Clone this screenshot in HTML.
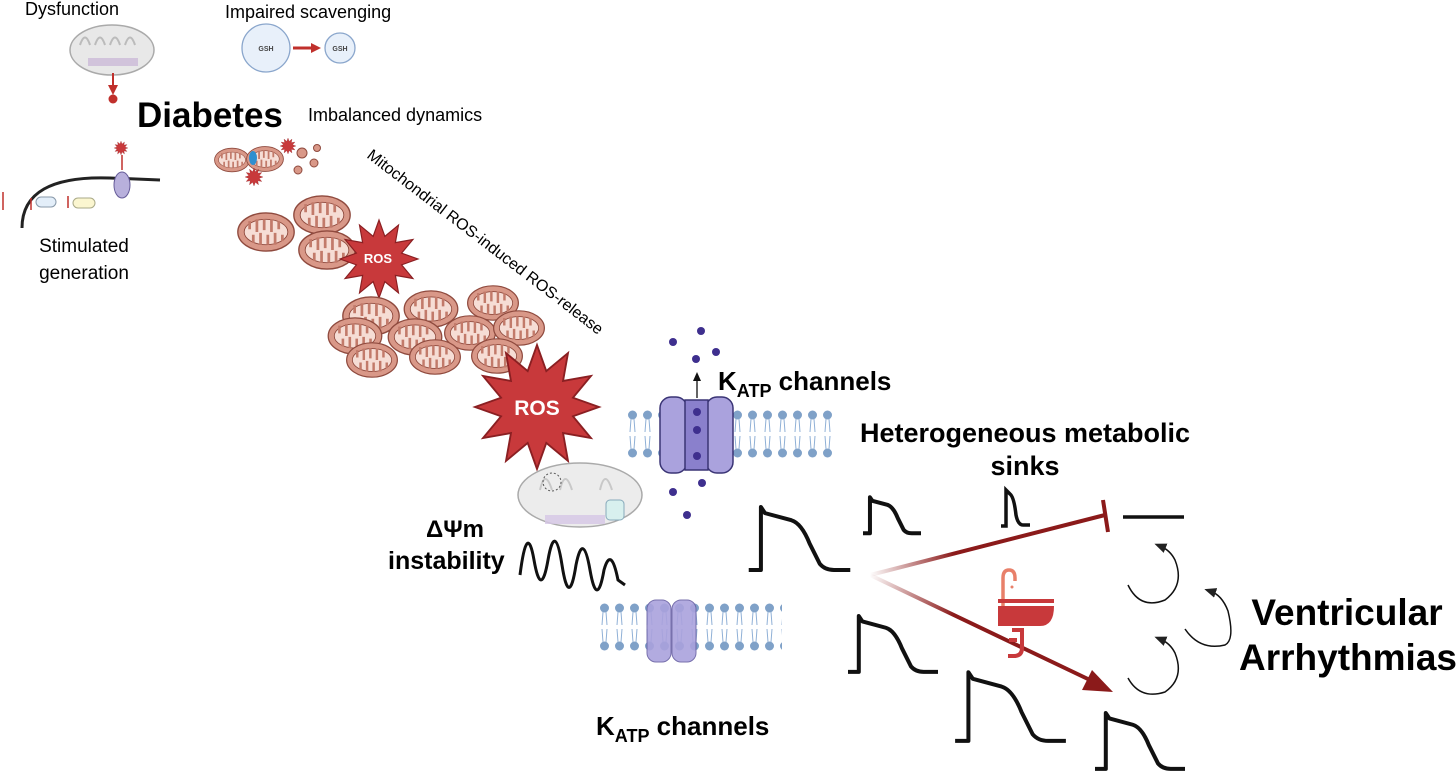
<!DOCTYPE html>
<html><head><meta charset="utf-8"><style>
html,body{margin:0;padding:0;background:#fff;}
svg{display:block;font-family:"Liberation Sans",sans-serif;}
</style></head><body>
<svg width="1456" height="777" viewBox="0 0 1456 777" xmlns="http://www.w3.org/2000/svg">
<defs>
<symbol id="star" viewBox="-100 -100 200 200" overflow="visible">
<polygon points="100,0 58,15 87,50 42,42 50,87 15,58 0,100 -15,58 -50,87 -42,42 -87,50 -58,15 -100,0 -58,-15 -87,-50 -42,-42 -50,-87 -15,-58 0,-100 15,-58 50,-87 42,-42 87,-50 58,-15" fill="#c8393b" stroke="#8a1f22" stroke-width="3"/>
</symbol>
<symbol id="mito" viewBox="-32 -22 64 44" overflow="visible">
<ellipse cx="0" cy="0" rx="31" ry="21" fill="#d99888" stroke="#8f4a3e" stroke-width="1.5"/>
<ellipse cx="0" cy="0" rx="24" ry="14" fill="#f6ddd5" stroke="#8f4a3e" stroke-width="1"/>
<path d="M-18,-12 V-3 M-10,-14 V0 M-2,-14 V-2 M6,-14 V0 M14,-12 V-3 M-14,12 V3 M-6,14 V1 M2,14 V3 M10,14 V1 M18,10 V3" stroke="#c27a6a" stroke-width="3"/>
</symbol>
<symbol id="ap" viewBox="0 0 100 65" overflow="visible">
<path d="M0,64 H12 V2 L16,8 L42,15 Q52,18 60,38 L70,58 Q75,64 84,64 H100" fill="none" stroke="#111" stroke-width="4" vector-effect="non-scaling-stroke" stroke-linejoin="round"/>
</symbol>
<pattern id="lip1" x="625" y="410" width="15" height="48" patternUnits="userSpaceOnUse">
<circle cx="7.5" cy="5" r="4.5" fill="#7fa1c8"/>
<circle cx="7.5" cy="43" r="4.5" fill="#7fa1c8"/>
<path d="M6,9 L5,22 M9,9 L10,22 M6,39 L5,26 M9,39 L10,26" stroke="#8fb0d6" stroke-width="1"/>
</pattern>
<pattern id="lip2" x="597" y="603" width="15" height="48" patternUnits="userSpaceOnUse">
<circle cx="7.5" cy="5" r="4.5" fill="#7fa1c8"/>
<circle cx="7.5" cy="43" r="4.5" fill="#7fa1c8"/>
<path d="M6,9 L5,22 M9,9 L10,22 M6,39 L5,26 M9,39 L10,26" stroke="#8fb0d6" stroke-width="1"/>
</pattern>
<linearGradient id="g1" x1="870" y1="575" x2="1110" y2="513" gradientUnits="userSpaceOnUse">
<stop offset="0" stop-color="#8b1a1a" stop-opacity="0"/><stop offset="0.35" stop-color="#8b1a1a"/><stop offset="1" stop-color="#8b1a1a"/></linearGradient>
<linearGradient id="g2" x1="870" y1="575" x2="1110" y2="690" gradientUnits="userSpaceOnUse">
<stop offset="0" stop-color="#8b1a1a" stop-opacity="0"/><stop offset="0.35" stop-color="#8b1a1a"/><stop offset="1" stop-color="#8b1a1a"/></linearGradient>
<marker id="ah" markerUnits="userSpaceOnUse" markerWidth="10" markerHeight="10" refX="7" refY="5" orient="auto"><path d="M0,0 L10,5 L0,10z" fill="#c0302c"/></marker>
<marker id="bk" markerUnits="userSpaceOnUse" markerWidth="12" markerHeight="12" refX="6" refY="6" orient="auto"><path d="M0,1 L12,6 L0,11z" fill="#222"/></marker>
</defs>

<!-- top-left -->
<text x="25" y="15" font-size="18">Dysfunction</text>
<ellipse cx="112" cy="50" rx="42" ry="25" fill="#e8e8e8" stroke="#aaa" stroke-width="1.5"/>
<path d="M80,45 q5,-15 10,0 M95,45 q5,-15 10,0 M110,45 q5,-15 10,0 M125,45 q5,-15 10,0" fill="none" stroke="#bbb" stroke-width="2"/>
<rect x="88" y="58" width="50" height="8" fill="#c8b3d6" opacity="0.7"/>
<path d="M113,73 V92" stroke="#c0302c" stroke-width="2" marker-end="url(#ah)"/>
<circle cx="113" cy="99" r="4.5" fill="#c0302c"/>
<text x="225" y="18" font-size="18">Impaired scavenging</text>
<circle cx="266" cy="48" r="24" fill="#e8f0fa" stroke="#8aa6cc" stroke-width="1.3"/>
<circle cx="340" cy="48" r="15" fill="#e8f0fa" stroke="#8aa6cc" stroke-width="1.3"/>
<text x="266" y="51" font-size="7" font-weight="bold" text-anchor="middle" fill="#444">GSH</text>
<text x="340" y="51" font-size="7" font-weight="bold" text-anchor="middle" fill="#444">GSH</text>
<path d="M293,48 H318" stroke="#c0302c" stroke-width="3" marker-end="url(#ah)"/>
<text x="137" y="127" font-size="35" font-weight="bold">Diabetes</text>
<text x="308" y="121" font-size="18">Imbalanced dynamics</text>
<!-- stimulated generation -->
<path d="M22,228 Q22,175 110,178 L160,180" fill="none" stroke="#222" stroke-width="3"/>
<path d="M26,228 Q26,180 110,182 L160,184" fill="none" stroke="#fff" stroke-width="1.5"/>
<ellipse cx="122" cy="185" rx="8" ry="13" fill="#b8b0dc" stroke="#665c99"/>
<rect x="36" y="197" width="20" height="10" rx="5" fill="#e3eef9" stroke="#89a"/>
<rect x="73" y="198" width="22" height="10" rx="5" fill="#fbf6d0" stroke="#aa8"/>
<path d="M122,170 V155" stroke="#c0302c" stroke-width="1.5"/>
<use href="#star" x="114" y="141" width="14" height="14"/>
<path d="M3,210 V192 M31,210 V198 M68,208 V196" stroke="#c0302c" stroke-width="1.5"/>
<text x="84" y="252" font-size="19" text-anchor="middle">Stimulated</text>
<text x="84" y="279" font-size="19" text-anchor="middle">generation</text>

<!-- mito cluster -->
<use href="#mito" x="214" y="147" width="36" height="26"/>
<use href="#mito" x="246" y="145" width="38" height="28"/>
<ellipse cx="253" cy="158" rx="4" ry="7" fill="#2f8fd0"/>
<circle cx="302" cy="153" r="5" fill="#d99888" stroke="#8f4a3e"/>
<circle cx="314" cy="163" r="4" fill="#d99888" stroke="#8f4a3e"/>
<circle cx="298" cy="170" r="4" fill="#d99888" stroke="#8f4a3e"/>
<circle cx="317" cy="148" r="3.5" fill="#d99888" stroke="#8f4a3e"/>
<use href="#star" x="280" y="138" width="16" height="16"/>
<use href="#star" x="245" y="168" width="18" height="18"/>
<use href="#mito" x="292" y="195" width="60" height="40"/>
<use href="#mito" x="236" y="212" width="60" height="40"/>
<use href="#mito" x="297" y="230" width="60" height="40"/>
<use href="#star" x="340" y="220" width="78" height="78"/>
<text x="378" y="263" font-size="13" font-weight="bold" fill="#fff" text-anchor="middle">ROS</text>
<use href="#mito" x="402" y="290" width="58" height="38"/>
<use href="#mito" x="465" y="285" width="56" height="36"/>
<use href="#mito" x="341" y="296" width="60" height="40"/>
<use href="#mito" x="326" y="317" width="58" height="38"/>
<use href="#mito" x="386" y="318" width="58" height="38"/>
<use href="#mito" x="442" y="315" width="56" height="36"/>
<use href="#mito" x="492" y="310" width="54" height="36"/>
<use href="#mito" x="344" y="342" width="56" height="36"/>
<use href="#mito" x="407" y="339" width="56" height="36"/>
<use href="#mito" x="470" y="338" width="54" height="36"/>
<use href="#star" x="472" y="345" width="130" height="124"/>
<text x="537" y="415" font-size="21" font-weight="bold" fill="#fff" text-anchor="middle">ROS</text>
<text transform="translate(366,157) rotate(37.5)" font-size="16">Mitochondrial ROS-induced ROS-release</text>

<!-- top membrane -->
<rect x="625" y="410" width="210" height="48" fill="url(#lip1)"/>
<rect x="660" y="397" width="27" height="76" rx="11" fill="#aaa2dd" stroke="#3a3475" stroke-width="1.5"/>
<rect x="706" y="397" width="27" height="76" rx="11" fill="#aaa2dd" stroke="#3a3475" stroke-width="1.5"/>
<rect x="685" y="400" width="23" height="70" fill="#8a80cc" stroke="#3a3475" stroke-width="1.5"/>
<circle cx="697" cy="412" r="4" fill="#3e2f8e"/><circle cx="697" cy="430" r="4" fill="#3e2f8e"/><circle cx="697" cy="456" r="4" fill="#3e2f8e"/>
<path d="M697,398 V376" stroke="#111" stroke-width="1.3"/><path d="M693,381 L697,372 L701,381z" fill="#111"/>
<g fill="#3e2f8e"><circle cx="701" cy="331" r="4"/><circle cx="673" cy="342" r="4"/><circle cx="716" cy="352" r="4"/><circle cx="696" cy="359" r="4"/><circle cx="702" cy="483" r="4"/><circle cx="673" cy="492" r="4"/><circle cx="687" cy="515" r="4"/></g>
<text x="718" y="390" font-size="26" font-weight="bold">K<tspan font-size="18" dy="7">ATP</tspan><tspan dy="-7"> channels</tspan></text>

<!-- gray mito -->
<ellipse cx="580" cy="495" rx="62" ry="32" fill="#ececec" stroke="#aaa" stroke-width="1.5"/>
<path d="M540,490 q5,-22 12,0 M560,490 q5,-22 12,0 M600,490 q5,-22 12,0" fill="none" stroke="#c8c8c8" stroke-width="2"/>
<circle cx="552" cy="482" r="9" fill="none" stroke="#555" stroke-dasharray="2,2"/>
<rect x="545" y="515" width="60" height="9" fill="#d6c7e6" opacity="0.8"/>
<rect x="606" y="500" width="18" height="20" rx="4" fill="#d8f0ee" stroke="#8ab"/>
<text x="455" y="537" font-size="24" font-weight="bold" text-anchor="middle">ΔΨm</text>
<text x="388" y="569" font-size="25" font-weight="bold">instability</text>
<path d="M520,575 Q527,520 534,560 T548,560 Q555,520 562,565 T576,565 Q583,530 590,570 T604,570 Q611,545 618,580 L625,585" fill="none" stroke="#111" stroke-width="3"/>

<!-- bottom membrane -->
<rect x="597" y="603" width="185" height="48" fill="url(#lip2)"/>
<rect x="647" y="600" width="24" height="62" rx="9" fill="#aaa2dd" stroke="#6a62a5" stroke-width="1" opacity="0.9"/>
<rect x="672" y="600" width="24" height="62" rx="9" fill="#aaa2dd" stroke="#6a62a5" stroke-width="1" opacity="0.9"/>
<text x="596" y="735" font-size="26" font-weight="bold">K<tspan font-size="18" dy="7">ATP</tspan><tspan dy="-7"> channels</tspan></text>

<!-- right side -->
<text x="1025" y="442" font-size="27" font-weight="bold" text-anchor="middle">Heterogeneous metabolic</text>
<text x="1025" y="475" font-size="27" font-weight="bold" text-anchor="middle">sinks</text>
<use href="#ap" x="748" y="505" width="103" height="66"/>
<use href="#ap" x="863" y="489" width="58" height="52"/>
<path d="M1001,526 H1006 V490 L1010,494 Q1014,497 1016,515 Q1018,525 1023,525 H1030" fill="none" stroke="#111" stroke-width="3.5"/>
<path d="M1123,517 H1184" stroke="#111" stroke-width="3.5"/>
<use href="#ap" x="848" y="611" width="90" height="65"/>
<use href="#ap" x="948" y="670" width="125" height="72"/>
<use href="#ap" x="1095" y="708" width="90" height="65"/>
<path d="M870,575 L1105,515" stroke="url(#g1)" stroke-width="4"/>
<path d="M1103,500 L1108,532" stroke="#8b1a1a" stroke-width="4"/>
<path d="M870,575 L1090,680" stroke="url(#g2)" stroke-width="4"/>
<path d="M1113,692 L1082,690 L1092,670z" fill="#8b1a1a"/>
<!-- sink -->
<path d="M1003,608 V578 q0,-8 6,-8 q6,0 6,8 v3" fill="none" stroke="#e8806a" stroke-width="3.5"/>
<circle cx="1012" cy="587" r="1.5" fill="#e8806a"/>
<rect x="998" y="599" width="56" height="4" fill="#c8393b"/>
<path d="M998,606 H1054 Q1054,626 1040,626 H998z" fill="#c8393b"/>
<path d="M1012,630 H1022 V648 q0,8 -8,8 h-6 M1017,640 h-8" fill="none" stroke="#c8393b" stroke-width="4"/>
<!-- circular arrows -->
<g fill="none" stroke="#111" stroke-width="1.5">
<path d="M1128,585 Q1140,610 1165,600 Q1185,585 1175,560 Q1170,550 1160,546" marker-end="url(#bk)"/>
<path d="M1128,678 Q1140,700 1165,692 Q1185,678 1175,653 Q1170,643 1160,639" marker-end="url(#bk)"/>
<path d="M1130,634 Q1145,656 1170,650 Q1180,645 1173,616 Q1167,600 1155,596" transform="translate(55,-5)" marker-end="url(#bk)"/>
</g>
<text x="1347" y="625" font-size="37" font-weight="bold" text-anchor="middle">Ventricular</text>
<text x="1348" y="670" font-size="37" font-weight="bold" text-anchor="middle">Arrhythmias</text>
</svg>
</body></html>
